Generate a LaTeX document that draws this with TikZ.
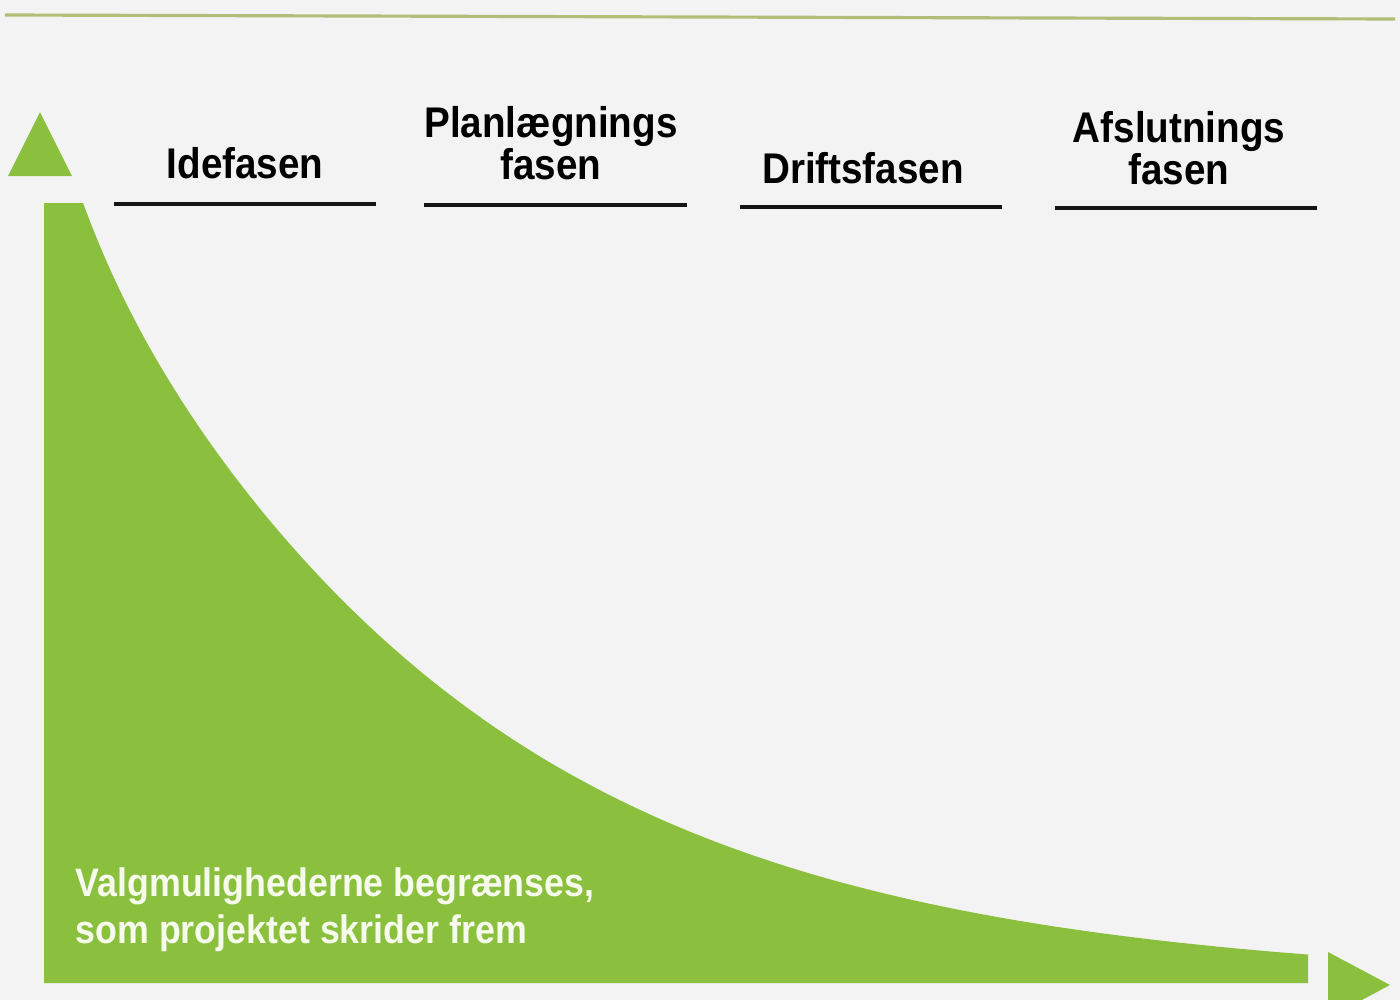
\documentclass[tikz,border=0pt]{standalone}
\usepackage{fontspec}
\setmainfont{Liberation Sans}
\newfontfamily\labfont[FakeStretch=0.9]{Liberation Sans}
\definecolor{bg}{HTML}{F3F3F3}
\definecolor{grn}{HTML}{8BC03F}
\definecolor{topline}{HTML}{B0BE78}
\definecolor{txtwhite}{HTML}{F6FBEC}
\tikzset{
  phaselabel/.style={font=\labfont\bfseries\fontsize{12.2}{12}\selectfont, align=center, inner sep=0pt, text=black},
  phaseline/.style={line width=1.15pt, draw=black!92},
  bottomtext/.style={font=\labfont\bfseries\fontsize{11.3}{13.4}\selectfont, align=left, inner sep=0pt, text=txtwhite, anchor=west}
}
\begin{document}
\begin{tikzpicture}[x=0.01cm,y=-0.01cm]
  \fill[bg] (0,0) rectangle (1400,1000);
  \useasboundingbox (0,0) rectangle (1400,1000);
  \begin{scope}
    \clip (0,0) rectangle (1400,1000);
    % top rule
    \draw[topline, line width=0.9pt] (5,15) -- (1395,19);
    % up arrow head
    \fill[grn] (8,176) -- (72,176) -- (40,112) -- cycle;
    % decreasing area
    \fill[grn] (44,203) -- plot[domain=83:1308, samples=150, smooth] (\x, {983-780*exp(-0.0027*(\x-83)-0.0008*(\x-83)*exp(-(\x-83)/90))}) -- (1308,983) -- (44,983) -- cycle;
    % right arrow head
    \fill[grn] (1328,952) -- (1390,985) -- (1328,1018) -- cycle;
  \end{scope}
  % phase labels
  \node[phaselabel] (idea) at (245,163) {Idefasen};
  \node[phaselabel] (plan) at (551,143) {Planlægnings\\fasen};
  \node[phaselabel] (drift) at (863,168) {Driftsfasen};
  \node[phaselabel] (afsl) at (1179,148.5) {Afslutnings\\fasen};
  % underlines
  \draw[phaseline] (114,204) -- (376,204);
  \draw[phaseline] (424,205) -- (687,205);
  \draw[phaseline] (740,207) -- (1002,207);
  \draw[phaseline] (1055,208) -- (1317,208);
  % bottom text
  \node[bottomtext] (note) at (75,910) {Valgmulighederne begrænses,\\som projektet skrider frem};
\end{tikzpicture}
\end{document}
